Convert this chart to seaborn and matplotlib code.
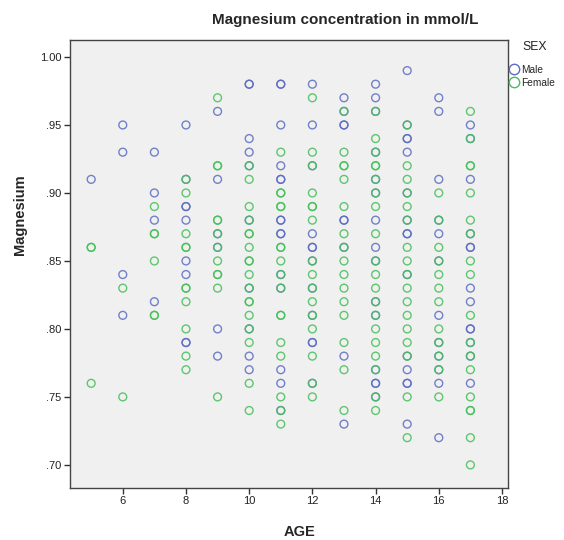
import numpy as np
import pandas as pd
import seaborn as sns
import matplotlib
matplotlib.use("Agg")
import matplotlib.pyplot as plt
from matplotlib.lines import Line2D
from matplotlib.ticker import FixedLocator, FuncFormatter

# Serum magnesium (mmol/L) by age, one list per age and sex
male_mg = {
    5: [.91],
    6: [.95, .93, .84, .81],
    7: [.93, .90, .88, .82],
    8: [.95, .91, .89, .89, .88, .85, .84, .79, .79],
    9: [.96, .91, .87, .86, .80, .78],
    10: [.98, .98, .94, .93, .92, .88, .83, .80, .78, .77],
    11: [.98, .98, .95, .92, .91, .91, .88, .88, .87, .87, .84, .83, .77, .76, .74],
    12: [.98, .95, .92, .87, .86, .86, .85, .83, .81, .79, .79, .76],
    13: [.97, .96, .95, .95, .88, .88, .86, .78, .73],
    14: [.98, .97, .96, .93, .91, .90, .88, .86, .85, .82, .81, .77, .76, .76, .75],
    15: [.99, .95, .94, .94, .93, .90, .88, .87, .87, .84, .78, .77, .76, .76, .73],
    16: [.97, .96, .91, .88, .87, .85, .81, .79, .78, .77, .76, .72],
    17: [.95, .94, .91, .87, .86, .86, .83, .82, .80, .80, .79, .78, .76],
}
female_mg = {
    5: [.86, .86, .76],
    6: [.83, .75],
    7: [.89, .87, .87, .85, .81, .81],
    8: [.91, .90, .87, .86, .86, .83, .83, .82, .80, .78, .77],
    9: [.97, .92, .92, .88, .88, .87, .86, .85, .84, .84, .83, .75],
    10: [.92, .91, .89, .88, .87, .87, .86, .85, .85, .84, .83, .82, .82, .81,
         .80, .79, .76, .74],
    11: [.93, .90, .90, .89, .89, .86, .86, .85, .84, .83, .81, .81, .79, .78,
         .75, .74, .73],
    12: [.97, .93, .92, .90, .89, .89, .88, .85, .84, .83, .82, .81, .80, .78,
         .76, .75],
    13: [.96, .93, .92, .92, .91, .89, .87, .86, .85, .84, .83, .82, .81, .79,
         .77, .74],
    14: [.96, .94, .93, .92, .92, .91, .90, .89, .87, .85, .84, .83, .82, .81,
         .80, .79, .78, .77, .75, .74],
    15: [.95, .92, .91, .90, .89, .88, .86, .85, .84, .83, .82, .81, .80, .79,
         .78, .75, .72],
    16: [.90, .88, .86, .85, .84, .83, .82, .80, .79, .78, .77, .75],
    17: [.96, .94, .92, .92, .90, .88, .87, .85, .84, .81, .79, .78, .77, .75,
         .74, .74, .72, .70],
}

sex_labels = ["Male", "Female"]
sex_colors = ["#5b6cc2", "#45bf58"]
x_ticks = [6, 8, 10, 12, 14, 16, 18]
y_ticks = [1.00, .95, .90, .85, .80, .75, .70]

rows = []
for sex, table in zip(sex_labels, [male_mg, female_mg]):
    for age, values in table.items():
        for v in values:
            rows.append({"AGE": age, "Magnesium": v, "SEX": sex})
df = pd.DataFrame(rows)

sns.set_style("white")
plt.rcParams["font.family"] = ["Liberation Sans", "DejaVu Sans"]

fig = plt.figure(figsize=(5.64, 5.40), dpi=100)
ax = fig.add_axes([70 / 564, 1 - 488 / 540, 438 / 564, 448 / 540])
ax.set_facecolor("#f0f0f0")

sns.scatterplot(data=df, x="AGE", y="Magnesium", hue="SEX",
                hue_order=sex_labels, palette=sex_colors, s=32,
                linewidth=1.0, alpha=0.85, legend=False, ax=ax)

# hollow markers: move fill colour onto the edge
for coll in ax.collections:
    fc = coll.get_facecolors()
    coll.set_edgecolors(fc)
    coll.set_facecolors("none")

ax.set_xlim(4.33, 18.19)
ax.set_ylim(0.683, 1.0125)
ax.xaxis.set_major_locator(FixedLocator(x_ticks))
ax.yaxis.set_major_locator(FixedLocator(y_ticks))
ax.yaxis.set_major_formatter(
    FuncFormatter(lambda v, p: f"{v:.2f}" if v >= 1 else f"{v:.2f}"[1:]))
ax.tick_params(axis="both", direction="out", length=4, width=1,
               colors="#333333", labelsize=8, labelcolor="#222222", pad=2,
               bottom=True, left=True)
for sp in ax.spines.values():
    sp.set_color("#444444")
    sp.set_linewidth(1.0)

ax.set_xlabel("AGE", fontsize=10.5, fontweight="bold")
ax.set_ylabel("Magnesium", fontsize=10.5, fontweight="bold")
ax.xaxis.set_label_coords(0.525, -0.083)
ax.yaxis.set_label_coords(-0.098, 0.61)
fig.text(345 / 564, 1 - 20 / 540, "Magnesium concentration in mmol/L",
         ha="center", va="center", fontsize=11, fontweight="bold")

# legend: title and entries placed separately, outside the plot area
fig.text(535 / 564, 1 - 47 / 540, "SEX", ha="center", va="center",
         fontsize=8.8, color="#222222")
handles = [Line2D([], [], linestyle="none", marker="o", markersize=7.5,
                  markerfacecolor="none", markeredgecolor=c, markeredgewidth=1.0)
           for c in sex_colors]
leg = fig.legend(handles, sex_labels, loc="upper left",
                 bbox_to_anchor=(509 / 564, 1 - 65 / 540), frameon=False,
                 fontsize=7.3, handletextpad=0.25, handlelength=0.9,
                 borderaxespad=0, labelspacing=0.3, borderpad=0)

fig.savefig("out.png", dpi=100, facecolor="white")
